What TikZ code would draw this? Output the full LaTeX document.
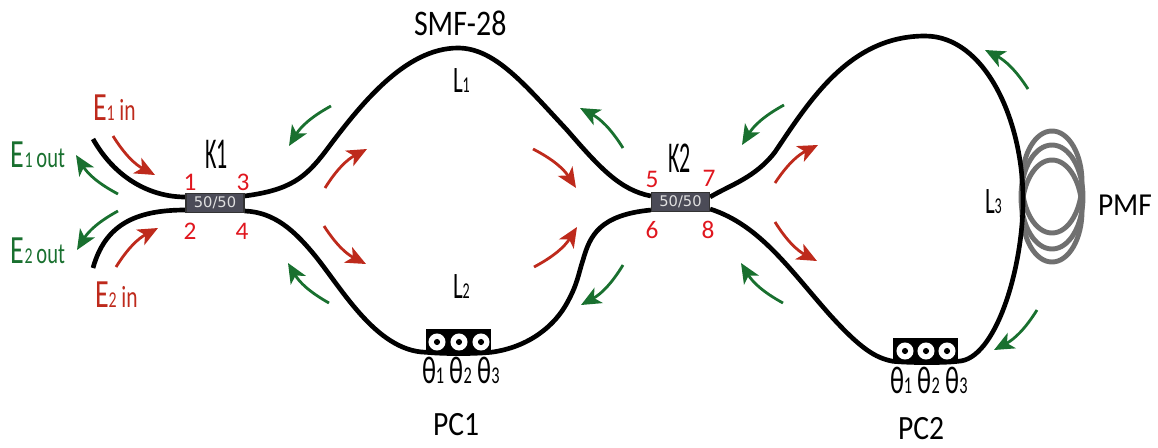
\documentclass[tikz,border=0pt]{standalone}
\usepackage{fontspec}
\setmainfont{Carlito}
\newfontfamily\boxfont{DejaVu Sans}
\usetikzlibrary{arrows.meta,calc}
\definecolor{rd}{HTML}{BE2A1C}
\definecolor{gn}{HTML}{19702F}
\definecolor{nm}{HTML}{E0161E}
\definecolor{cpl}{HTML}{4B4B57}
\newcommand{\fs}[1]{\fontsize{#1}{#1}\selectfont}
\newcommand{\sx}[2]{\scalebox{#1}[1]{#2}}
\newcommand{\inlab}[2]{\sx{.7}{\fs{30}E\fs{17}#1\hspace{5pt}\fs{23}#2}}
\newcommand{\outlab}[2]{\sx{.7}{\fs{30}E\fs{17}#1\hspace{4pt}\fs{22}#2}}
\newcommand{\Llab}[1]{\sx{.62}{\fs{28}L\fs{17}#1}}
\newcommand{\thetas}{\sx{.68}{\fs{29}θ\fs{18}1\,\,\fs{29}θ\fs{18}2\,\,\fs{29}θ\fs{18}3}}
\tikzset{
 fiber/.style={line width=3.5pt,black},
 coupler/.style={draw=black!80,line width=.9pt,fill=cpl,minimum width=43.5pt,minimum height=14.5pt,inner sep=0pt,text=white!88!black,font=\boxfont\fs{11}},
 pcbox/.style={fill=black,minimum width=48.5pt,minimum height=18pt,inner sep=0pt},
 disc/.style={circle,fill=white,minimum size=12.8pt,inner sep=0pt},
 hole/.style={circle,fill=black,minimum size=4.6pt,inner sep=0pt},
 lab/.style={anchor=base west,inner sep=0pt,outer sep=0pt},
 num/.style={inner sep=0pt,text=nm,font=\fs{19}},
 coil/.style={draw=black!56,line width=3.7pt},
 rarr/.style={rd,line width=2.1pt,-{Stealth[length=15pt,width=13pt,inset=4pt]}},
 garr/.style={gn,line width=2.1pt,-{Stealth[length=15pt,width=13pt,inset=4pt]}},
}
\begin{document}
\begin{tikzpicture}[x=.75pt,y=-.75pt]
\useasboundingbox (0,0) rectangle (1158,447);
% PMF coil
\draw[coil] (1052,182) ellipse [x radius=30,y radius=51];
\draw[coil] (1052,197) ellipse [x radius=31,y radius=52];
\draw[coil] (1052,211) ellipse [x radius=30,y radius=51];
% couplers and controllers
\node[coupler] (k1) at (215,203) {};
\node[coupler] (k2) at (680.5,202) {};
\node[pcbox] (pc1) at (458.5,341) {};
\node[pcbox] (pc2) at (925.5,350) {};
% free ends
\coordinate (e1) at (93,139);
\coordinate (e2) at (93,268);
% fibres
\draw[fiber] (e1) .. controls (115,178) and (150,197) .. ($(k1.west)+(0,-6)$);
\draw[fiber] (e2) .. controls (105,225) and (135,210) .. ($(k1.west)+(0,7)$);
\draw[fiber] ($(k1.east)+(0,-7)$) .. controls (290,190) and (305,178) .. (325,152)
 .. controls (360,105) and (405,48) .. (458,48)
 .. controls (495,48) and (525,85) .. (567,130)
 .. controls (600,168) and (620,190) .. ($(k2.west)+(0,-6)$);
\draw[fiber] ($(k1.east)+(0,8)$) .. controls (275,212) and (295,232) .. (312,252)
 .. controls (340,285) and (375,351) .. ($(pc1.south west)+(0,-1)$)
 .. controls (445,354) and (472,354) .. ($(pc1.south east)+(0,-1)$)
 .. controls (530,347) and (555,325) .. (567,303)
 .. controls (578,283) and (578,275) .. (583,260)
 .. controls (590,235) and (600,215) .. ($(k2.west)+(0,8)$);
\draw[fiber] ($(k2.east)+(0,-5)$) .. controls (730,185) and (755,178) .. (775,152)
 .. controls (810,100) and (850,36) .. (925,36)
 .. controls (985,36) and (1023,120) .. (1023,200)
 .. controls (1023,270) and (995,360) .. ($(pc2.south east)+(0,-1)$)
 .. controls (945,363) and (910,363) .. ($(pc2.south west)+(0,-1)$)
 .. controls (875,358) and (860,348) .. (830,315)
 .. controls (790,270) and (760,225) .. ($(k2.east)+(0,7)$);
% redraw of the boxes' labels and discs above the fibres
\node[coupler] (k1t) at (k1) {50/50};
\node[coupler] (k2t) at (k2) {50/50};
\foreach \n/\x/\y in {a/437/342,b/459/342,c/481/342,d/905/351,e/926/351,f/947/351}{
 \node[disc] (\n) at (\x,\y) {};
 \node[hole] (\n h) at (\x,\y) {};
}
% direction arrows
\foreach \s/\a/\b/\c/\d/\k in {
 rarr/113/136/155/175/ra,
 rarr/324/226/366/264/rb,
 rarr/534/267/577/227/rm,
 rarr/775/222/817/261/rd,
 garr/331/106/289/146/ga,
 garr/623/148/580/108/gb,
 garr/784/105/742/145/gc,
 garr/1028/89/985/50/gd,
 garr/118/211/77/250/ge}{
 \coordinate (\k s) at (\a,\b); \coordinate (\k t) at (\c,\d);
 \draw[\s] (\k s) to[bend right=15] (\k t);
}
\foreach \s/\a/\b/\c/\d/\k in {
 rarr/116/267/158/228/rk,
 rarr/325/188/367/149/rl,
 rarr/533/149/576/188/rc,
 rarr/775/183/818/145/rn,
 garr/118/194/76/155/gk,
 garr/329/303/288/263/gl,
 garr/783/303/741/263/gm,
 garr/623/265/581/305/gf,
 garr/1037/310/994/350/gg}{
 \coordinate (\k s) at (\a,\b); \coordinate (\k t) at (\c,\d);
 \draw[\s] (\k s) to[bend left=15] (\k t);
}
% labels
\node[lab,text=rd] (t1) at (93,120) {\inlab{1}{in}};
\node[lab,text=rd] (t2) at (95,307) {\inlab{2}{in}};
\node[lab,text=gn] (t3) at (11,167) {\outlab{1}{out}};
\node[lab,text=gn] (t4) at (11,263) {\outlab{2}{out}};
\node[lab] (t5) at (205,168) {\sx{.5}{\fs{33}K1}};
\node[lab] (t6) at (668,172) {\sx{.5}{\fs{33}K2}};
\node[num] (n1) at (190,182) {1};
\node[num] (n3) at (243,182) {3};
\node[num] (n2) at (190,231) {2};
\node[num] (n4) at (242,231) {4};
\node[num] (n5) at (652,179) {5};
\node[num] (n7) at (709,178) {7};
\node[num] (n6) at (652,230) {6};
\node[num] (n8) at (708,230) {8};
\node[lab] (l1) at (453,92) {\Llab{1}};
\node[lab] (l2) at (453,298) {\Llab{2}};
\node[lab] (l3) at (985,213) {\Llab{3}};
\node[lab] (sm) at (414,35) {\sx{.83}{\fs{27}SMF-28}};
\node[lab] (pm) at (1098,215) {\sx{.92}{\fs{24}PMF}};
\node[lab] (p1) at (433,435) {\sx{.87}{\fs{25.5}PC1}};
\node[lab] (p2) at (898,439) {\sx{.87}{\fs{25.5}PC2}};
\node[lab] (th1) at (422,383) {\thetas};
\node[lab] (th2) at (890,393) {\thetas};
\end{tikzpicture}
\end{document}
